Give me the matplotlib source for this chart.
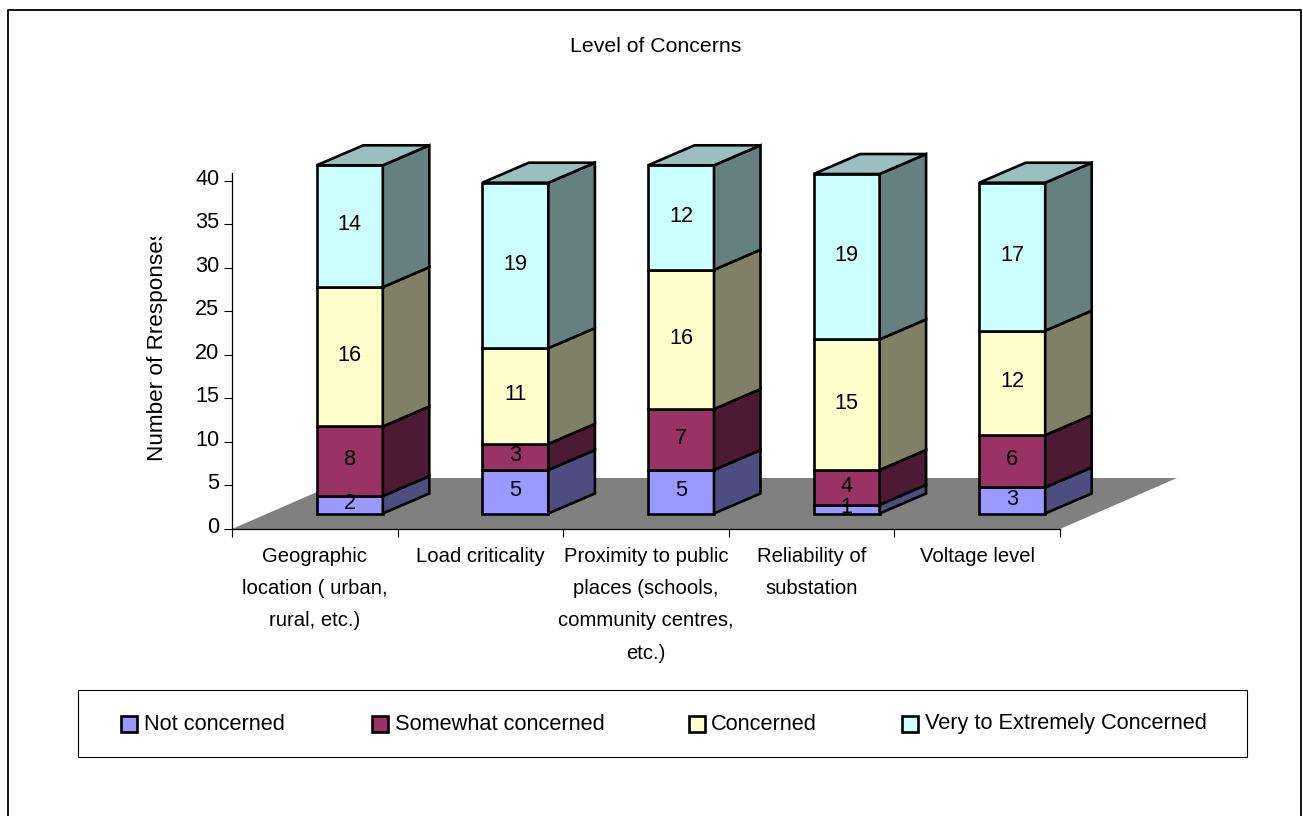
import matplotlib
matplotlib.use('Agg')
import matplotlib.pyplot as plt
from matplotlib.patches import Polygon, Rectangle
from matplotlib.transforms import Bbox, ScaledTranslation

plt.rcParams['font.family'] = ['Liberation Sans', 'DejaVu Sans']

categories = ['Geographic\nlocation ( urban,\nrural, etc.)',
              'Load criticality',
              'Proximity to public\nplaces (schools,\ncommunity centres,\netc.)',
              'Reliability of\nsubstation',
              'Voltage level']
series_names = ['Not concerned', 'Somewhat concerned', 'Concerned',
                'Very to Extremely Concerned']
not_concerned = [2, 5, 5, 1, 3]
somewhat = [8, 3, 7, 4, 6]
concerned = [16, 11, 16, 15, 12]
very = [14, 19, 12, 19, 17]
y_ticks = [0, 5, 10, 15, 20, 25, 30, 35, 40]

front_colors = ['#9999FF', '#993366', '#FFFFCC', '#CCFFFF']
side_colors = ['#4D4D80', '#4D1A33', '#808066', '#668080']
top_color = '#99BFBF'

W, H = 1303, 816
fig = plt.figure(figsize=(W / 100, H / 100), dpi=100)

# axes box is the front edge of the floor, 0-5 across and 0-40 up
ax = fig.add_axes([232 / W, 1 - 529 / H, 828 / W, 348.2 / H])
ax.set_xlim(0, 5)
ax.set_ylim(0, 40)
ax.patch.set_visible(False)
for s in ('top', 'right', 'bottom', 'left'):
    ax.spines[s].set_visible(False)

# pseudo 3d: how far the depth axis shifts things, in data units
px_x = 5 / 828
px_y = 40 / 348.2
floor_dx = 117 * px_x
floor_dy = 51 * px_y
bar_dx = 46.5 * px_x
bar_dy = 20 * px_y
bar_base = 15.5 * px_y
bar_shift = 35 * px_x
bar_w = 66 * px_x

ax.add_patch(Polygon([(0, 0), (5, 0), (5 + floor_dx, floor_dy), (floor_dx, floor_dy)],
                     closed=True, fc='#808080', ec='none', clip_on=False, zorder=1))

# axis lines and ticks
ax.plot([0, 0], [0, 40.9], color='black', lw=0.9, clip_on=False, zorder=2)
ax.plot([0, 5], [0, 0], color='black', lw=0.9, clip_on=False, zorder=2)
ax.set_yticks(y_ticks)
ax.tick_params(axis='y', length=5.5, width=0.8, labelsize=15.6, pad=3.5)
for lab in ax.get_yticklabels():
    lab.set_transform(lab.get_transform() + ScaledTranslation(0, 4 / 100, fig.dpi_scale_trans))
ax.set_xticks(range(6))
ax.set_xticklabels([])
ax.tick_params(axis='x', length=5.5, width=0.8)

# stacked boxes
all_series = [not_concerned, somewhat, concerned, very]
for i in range(len(categories)):
    x0 = i + 0.5 + bar_shift - bar_w / 2
    x1 = x0 + bar_w
    bottom = bar_base
    for j, vals in enumerate(all_series):
        top = bottom + vals[i]
        ax.add_patch(Rectangle((x0, bottom), bar_w, vals[i], fc=front_colors[j], ec='black',
                               lw=1.9, clip_on=False, zorder=3, joinstyle='miter'))
        ax.add_patch(Polygon([(x1, bottom), (x1 + bar_dx, bottom + bar_dy),
                              (x1 + bar_dx, top + bar_dy), (x1, top)], closed=True,
                             fc=side_colors[j], ec='black', lw=1.9, clip_on=False, zorder=3))
        ax.text((x0 + x1) / 2, (bottom + top) / 2 + 0.15, str(vals[i]), ha='center', va='center',
                fontsize=15.6, color='black', zorder=5, clip_on=False)
        bottom = top
    ax.add_patch(Polygon([(x0, bottom), (x1, bottom), (x1 + bar_dx, bottom + bar_dy),
                          (x0 + bar_dx, bottom + bar_dy)], closed=True,
                         fc=top_color, ec='black', lw=1.9, clip_on=False, zorder=3))
    # category labels under the axis
    ax.annotate(categories[i], (i + 0.5, 0), xytext=(0, -13), textcoords='offset points',
                ha='center', va='top', fontsize=14.6, linespacing=1.88, annotation_clip=False)

# the y title gets cut off at the top of its frame
ylab = fig.text(157 / W, 1 - 461 / H, 'Number of Rresponses', rotation=90, ha='center', va='bottom',
                fontsize=16.2)
ylab.set_clip_box(Bbox([[130, H - 480], [180, H - 237]]))
ylab.set_clip_on(True)

fig.text(656 / W, 1 - 46.5 / H, 'Level of Concerns', ha='center', va='center', fontsize=15.3)

# outer frame, open at the bottom edge of the file
fig.add_artist(plt.Line2D([8 / W, 8 / W, 1301 / W, 1301 / W], [0, 1 - 9.5 / H, 1 - 9.5 / H, 0],
                          color='black', lw=1.3))

# legend box, laid out by hand because the gaps are uneven
fig.add_artist(Rectangle((78 / W, 1 - 757 / H), 1169 / W, 67 / H, transform=fig.transFigure,
                         fc='white', ec='black', lw=0.8))
swatch_x = [121, 372, 689, 902]
text_x = [144, 395, 711, 925]
for name, col, sx, tx in zip(series_names, front_colors, swatch_x, text_x):
    fig.add_artist(Rectangle((sx / W, 1 - 732 / H), 16 / W, 16 / H, transform=fig.transFigure,
                             fc=col, ec='black', lw=1.9))
    fig.text(tx / W, 1 - 729.5 / H, name, ha='left', va='baseline', fontsize=15.7)

fig.savefig('out.png', dpi=100)
